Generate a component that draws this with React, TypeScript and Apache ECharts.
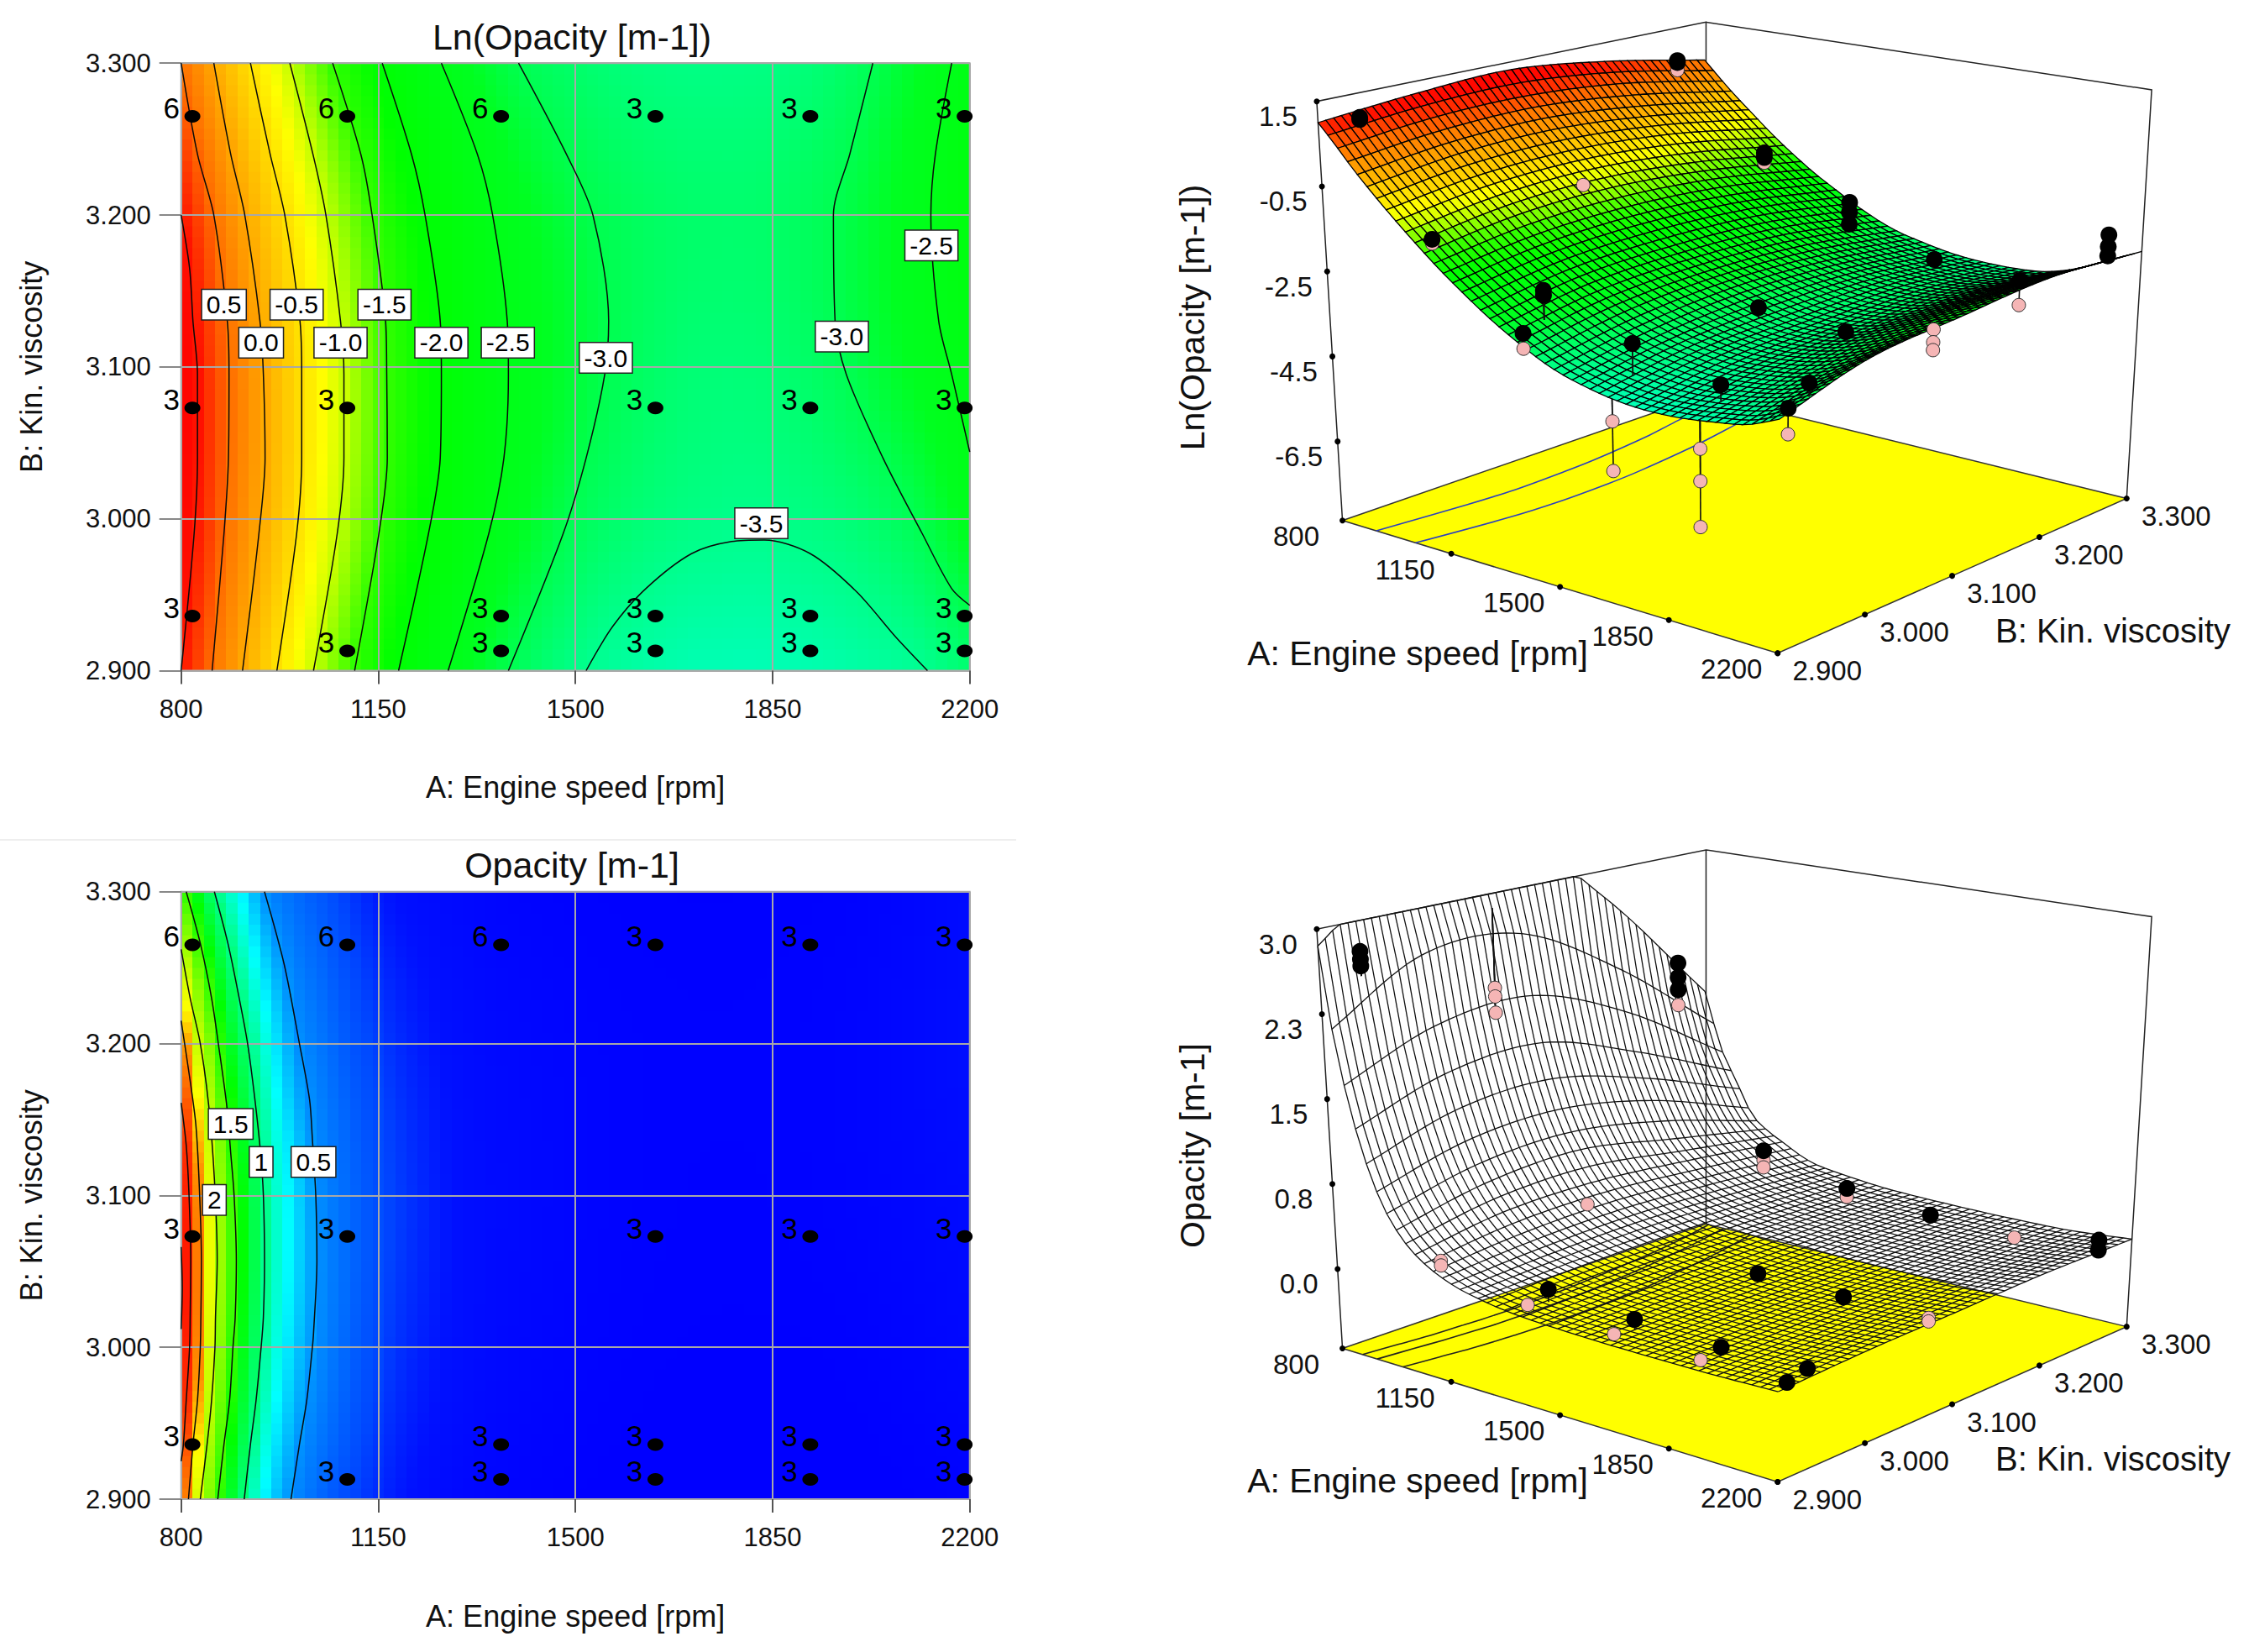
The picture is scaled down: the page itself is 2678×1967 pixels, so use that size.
import React, { useEffect, useRef } from "react";
import * as echarts from "echarts";

// ---------- values ----------
const B_ROWS = [2.9, 3.0, 3.1, 3.2, 3.3];

const LN_A = [800, 850, 900, 950, 1000, 1050, 1100, 1150, 1200, 1300, 1400, 1500, 1600, 1700, 1800, 1900, 2000, 2100, 2200];
const LN_B290 = [1.0, 0.55, 0.08, -0.34, -0.73, -1.1, -1.45, -1.78, -2.08, -2.63, -3.08, -3.44, -3.65, -3.78, -3.82, -3.78, -3.68, -3.55, -3.25];
const LN_B300 = [1.2, 0.77, 0.33, -0.07, -0.45, -0.8, -1.13, -1.47, -1.76, -2.26, -2.68, -3.04, -3.27, -3.4, -3.46, -3.4, -3.27, -3.02, -2.62];
const LN_B310 = [1.3, 0.8, 0.38, -0.03, -0.4, -0.74, -1.07, -1.4, -1.68, -2.18, -2.56, -2.85, -3.1, -3.27, -3.3, -3.2, -2.96, -2.68, -2.42];
const LN_B320 = [1.0, 0.57, 0.12, -0.26, -0.6, -0.95, -1.27, -1.56, -1.83, -2.28, -2.65, -2.92, -3.1, -3.2, -3.22, -3.12, -2.9, -2.6, -2.25];
const LN_B330 = [0.5, 0.07, -0.33, -0.69, -1.05, -1.38, -1.68, -1.96, -2.2, -2.65, -3.0, -3.2, -3.34, -3.4, -3.4, -3.33, -3.1, -2.75, -2.4];

const OP_A = [800, 825, 850, 875, 900, 950, 1000, 1050, 1100, 1150, 1200, 1300, 1400, 1600, 1800, 2000, 2200];
const OP_B290 = [2.85, 2.2, 1.75, 1.41, 1.12, 0.72, 0.48, 0.33, 0.235, 0.17, 0.125, 0.072, 0.045, 0.026, 0.022, 0.025, 0.04];
const OP_B300 = [3.5, 2.7, 2.1, 1.7, 1.39, 0.93, 0.65, 0.46, 0.32, 0.23, 0.17, 0.105, 0.068, 0.038, 0.031, 0.038, 0.073];
const OP_B310 = [3.5, 2.68, 2.15, 1.75, 1.43, 0.97, 0.69, 0.47, 0.34, 0.25, 0.19, 0.11, 0.077, 0.045, 0.037, 0.052, 0.088];
const OP_B320 = [2.7, 2.12, 1.75, 1.4, 1.16, 0.81, 0.53, 0.39, 0.28, 0.21, 0.16, 0.1, 0.07, 0.045, 0.04, 0.055, 0.105];
const OP_B330 = [1.6, 1.33, 1.08, 0.92, 0.78, 0.49, 0.36, 0.28, 0.2, 0.14, 0.11, 0.075, 0.05, 0.035, 0.033, 0.045, 0.09];

// contour lines: speed at which each level crosses the listed viscosities
const LN_CB = [3.3, 3.24, 3.2, 3.13, 3.095, 3.04, 2.99, 2.9];
const LN_C_05 = [800, 829, 858, 882, 885, 884, 876, 855];
const LN_C_00 = [858, 888, 913, 940, 946, 949, 938, 909];
const LN_C_M05 = [923, 958, 984, 1011, 1014, 1014, 1005, 970];
const LN_C_M10 = [993, 1034, 1057, 1083, 1089, 1089, 1077, 1035];
const LN_C_M15 = [1069, 1119, 1139, 1163, 1165, 1166, 1151, 1108];
const LN_C_M20 = [1157, 1209, 1233, 1260, 1262, 1260, 1239, 1186];
const LN_C_M25 = [1262, 1326, 1353, 1379, 1381, 1373, 1346, 1274];
const LN_C_M30L = [1399, 1484, 1531, 1559, 1552, 1519, 1478, 1381];
const LN_C_10_A = [800, 815, 821, 829, 829, 823, 800];
const LN_C_10_B = [3.2, 3.165, 3.13, 3.095, 3.04, 2.99, 2.9];
const LN_C_M30R_A = [2028, 1987, 1958, 1961, 1981, 2046, 2116, 2168, 2200];
const LN_C_M30R_B = [3.3, 3.24, 3.2, 3.13, 3.095, 3.04, 2.99, 2.954, 2.943];
const LN_C_M25R_A = [2168, 2139, 2131, 2145, 2168, 2200];
const LN_C_M25R_B = [3.3, 3.24, 3.2, 3.13, 3.095, 3.044];
const LN_C_M35_A = [1519, 1566, 1625, 1706, 1777, 1835, 1917, 1999, 2069, 2125];
const LN_C_M35_B = [2.9, 2.929, 2.954, 2.977, 2.985, 2.986, 2.977, 2.952, 2.922, 2.9];

const OP_C_05_A = [948, 983, 1010, 1028, 1033, 1039, 1041, 1035, 1033, 1023, 1010, 995];
const OP_C_10_A = [859, 883, 903, 918, 931, 941, 946, 948, 946, 942, 933, 923, 912];
const OP_C_15_A = [809, 834, 854, 866, 881, 888, 894, 898, 896, 892, 886, 876, 865];
const OP_C_05_B = [3.3, 3.252, 3.2, 3.163, 3.137, 3.1, 3.057, 3.009, 3.0, 2.965, 2.936, 2.9];
const OP_C_10_B = [3.3, 3.266, 3.23, 3.2, 3.163, 3.128, 3.1, 3.057, 3.02, 3.0, 2.965, 2.936, 2.9];
const OP_C_15_B = [3.3, 3.266, 3.23, 3.2, 3.159, 3.128, 3.1, 3.057, 3.02, 3.0, 2.965, 2.936, 2.9];
const OP_C_20_A = [800, 816, 834, 849, 859, 864, 861, 860, 854, 846, 834];
const OP_C_20_B = [3.262, 3.23, 3.2, 3.159, 3.111, 3.057, 3.02, 3.0, 2.965, 2.936, 2.9];
const OP_C_25_A = [800, 815, 826, 832, 836, 835, 834, 829, 821, 813];
const OP_C_25_B = [3.215, 3.178, 3.147, 3.108, 3.057, 3.02, 3.0, 2.965, 2.936, 2.9];
const OP_C_30_A = [800, 809, 814, 817, 816, 815, 809, 804, 800];
const OP_C_30_B = [3.161, 3.133, 3.1, 3.057, 3.02, 3.0, 2.965, 2.936, 2.925];
const OP_C_35_A = [800, 802, 800];
const OP_C_35_B = [3.066, 3.039, 3.012];

// design points with replicate counts
const DESIGN_POINTS = [
  [820, 3.265, "6"], [1095, 3.265, "6"], [1368, 3.265, "6"], [1642, 3.265, "3"], [1917, 3.265, "3"], [2191, 3.265, "3"],
  [820, 3.073, "3"], [1095, 3.073, "3"], [1642, 3.073, "3"], [1917, 3.073, "3"], [2191, 3.073, "3"],
  [820, 2.936, "3"], [1368, 2.936, "3"], [1642, 2.936, "3"], [1917, 2.936, "3"], [2191, 2.936, "3"],
  [1095, 2.913, "3"], [1368, 2.913, "3"], [1642, 2.913, "3"], [1917, 2.913, "3"], [2191, 2.913, "3"],
];

const LN_LABELS = [
  [876, 3.141, "0.5"], [942, 3.116, "0.0"], [1005, 3.141, "-0.5"], [1083, 3.116, "-1.0"], [1161, 3.141, "-1.5"],
  [1262, 3.116, "-2.0"], [1380, 3.116, "-2.5"], [1554, 3.106, "-3.0"], [1973, 3.12, "-3.0"], [2132, 3.18, "-2.5"], [1830, 2.997, "-3.5"],
];
const OP_LABELS = [[888, 3.147, "1.5"], [942, 3.122, "1"], [1035, 3.122, "0.5"], [859, 3.097, "2"]];

// measured points on the 3D plots: speed, viscosity, value, b = above surface, p = below, h = below and hidden
const LN_MEASURED = [
  [820, 2.936, 0.98, "b"], [820, 2.936, 0.93, "b"],
  [820, 3.073, 0.77, "h"], [820, 3.073, 0.65, "h"],
  [820, 3.265, 0.45, "p"], [820, 3.265, 0.7, "b"], [820, 3.265, 0.65, "b"],
  [1095, 3.265, -1.55, "p"], [1095, 3.265, -1.3, "b"], [1095, 3.265, -1.42, "b"],
  [1368, 3.265, -2.15, "b"], [1368, 3.265, -2.4, "b"], [1368, 3.265, -2.7, "b"],
  [1642, 3.265, -3.16, "b"],
  [1917, 3.265, -3.85, "p"], [1917, 3.265, -3.25, "b"],
  [2191, 3.265, -1.75, "b"], [2191, 3.265, -2.03, "b"], [2191, 3.265, -2.25, "b"],
  [1095, 3.073, -0.93, "p"],
  [1642, 3.073, -2.94, "b"], [1917, 3.073, -3.04, "b"],
  [2191, 3.073, -2.53, "p"], [2191, 3.073, -2.82, "p"], [2191, 3.073, -3.0, "p"],
  [1368, 2.936, -2.11, "b"], [1368, 2.936, -2.22, "b"],
  [1642, 2.936, -2.83, "b"], [1917, 2.936, -3.26, "b"], [2191, 2.936, -2.73, "b"],
  [1095, 2.913, -1.38, "p"], [1095, 2.913, -1.28, "b"],
  [1368, 2.913, -3.3, "p"], [1368, 2.913, -2.95, "b"],
  [1642, 2.913, -4.43, "p"], [1642, 2.913, -5.55, "p"],
  [1917, 2.913, -4.52, "p"], [1917, 2.913, -5.24, "p"], [1917, 2.913, -6.26, "p"],
  [2191, 2.913, -3.69, "p"], [2191, 2.913, -3.12, "b"],
];
const OP_MEASURED = [
  [820, 2.936, 2.75, "b"], [820, 2.936, 2.68, "b"], [820, 2.936, 2.62, "b"],
  [820, 3.073, 2.15, "p"], [820, 3.073, 2.07, "p"], [820, 3.073, 1.92, "p"],
  [820, 3.265, 1.97, "b"], [820, 3.265, 1.83, "b"], [820, 3.265, 1.71, "b"], [820, 3.265, 1.56, "p"],
  [1095, 3.265, 0.32, "b"], [1095, 3.265, 0.23, "p"], [1095, 3.265, 0.16, "p"],
  [1368, 3.265, 0.14, "b"], [1368, 3.265, 0.06, "p"],
  [1642, 3.265, 0.07, "b"], [1917, 3.265, 0.04, "p"],
  [2191, 3.265, 0.19, "b"], [2191, 3.265, 0.1, "b"],
  [1095, 3.073, 0.35, "p"], [1642, 3.073, 0.12, "b"], [1917, 3.073, 0.11, "b"],
  [2191, 3.073, 0.12, "p"], [2191, 3.073, 0.09, "p"],
  [1368, 2.936, 0.17, "b"], [1642, 2.936, 0.12, "b"], [1917, 2.936, 0.09, "b"], [2191, 2.936, 0.115, "b"],
  [1095, 2.913, 0.27, "p"], [1095, 2.913, 0.23, "p"],
  [1368, 2.913, 0.1, "p"], [1642, 2.913, 0.06, "p"], [1917, 2.913, 0.05, "p"], [2191, 2.913, 0.07, "b"],
];

const A_TICKS = [800, 1150, 1500, 1850, 2200];
const B_TICKS = [2.9, 3.0, 3.1, 3.2, 3.3];
const LN_Z_TICKS = [1.5, -0.5, -2.5, -4.5, -6.5];
const LN_Z_TEXT = ["1.5", "-0.5", "-2.5", "-4.5", "-6.5"];
const OP_Z_TICKS = [3.0, 2.25, 1.5, 0.75, 0.0];
const OP_Z_TEXT = ["3.0", "2.3", "1.5", "0.8", "0.0"];

const LN_COLORS: any[] = [
  [-3.9, "#00ffc0"], [-3.5, "#00ff90"], [-3.0, "#00ff50"], [-2.7, "#00ff20"], [-1.9, "#00ff00"], [-1.5, "#30ff00"],
  [-1.0, "#c8ff00"], [-0.75, "#ffff00"], [-0.5, "#ffe000"], [0.0, "#ffa800"], [0.5, "#ff7000"], [1.0, "#ff1000"], [1.3, "#ff0000"],
];
const OP_COLORS: any[] = [
  [0.03, "#0000ff"], [0.12, "#0010ff"], [0.23, "#0048ff"], [0.34, "#0068ff"], [0.5, "#0090ff"], [0.75, "#00ffff"], [1.0, "#00ff80"], [1.35, "#00ff00"], [1.75, "#80ff00"],
  [2.0, "#c0ff00"], [2.25, "#ffff00"], [2.5, "#ff9000"], [3.0, "#ff3000"], [3.5, "#ff0000"],
];

// ---------- helpers ----------
const FONT = "Liberation Sans";
const A_MIN = 800, A_MAX = 2200, B_MIN = 2.9, B_MAX = 3.3;

function zip(xs: number[], ys: number[]) { return xs.map((x, i) => [x, ys[i]]); }

function hermite(xs: number[], ys: number[], x: number) {
  const n = xs.length;
  if (x <= xs[0]) return ys[0];
  if (x >= xs[n - 1]) return ys[n - 1];
  let i = 0;
  while (x > xs[i + 1]) i++;
  const slope = (k: number) => {
    if (k === 0) return (ys[1] - ys[0]) / (xs[1] - xs[0]);
    if (k === n - 1) return (ys[n - 1] - ys[n - 2]) / (xs[n - 1] - xs[n - 2]);
    return (ys[k + 1] - ys[k - 1]) / (xs[k + 1] - xs[k - 1]);
  };
  const h = xs[i + 1] - xs[i], t = (x - xs[i]) / h;
  const t2 = t * t, t3 = t2 * t;
  return (2 * t3 - 3 * t2 + 1) * ys[i] + (t3 - 2 * t2 + t) * h * slope(i) + (-2 * t3 + 3 * t2) * ys[i + 1] + (t3 - t2) * h * slope(i + 1);
}

function sampler(As: number[], rows: number[][]) {
  return (A: number, B: number) => hermite(B_ROWS, rows.map((r) => hermite(As, r, A)), B);
}
const lnAt = sampler(LN_A, [LN_B290, LN_B300, LN_B310, LN_B320, LN_B330]);
const opAt = sampler(OP_A, [OP_B290, OP_B300, OP_B310, OP_B320, OP_B330]);

function hexRgb(h: string) { return [1, 3, 5].map((i) => parseInt(h.slice(i, i + 2), 16)); }
function colorOf(map: any[], v: number) {
  if (v <= map[0][0]) return map[0][1];
  for (let i = 1; i < map.length; i++) {
    if (v <= map[i][0]) {
      const t = (v - map[i - 1][0]) / (map[i][0] - map[i - 1][0]);
      const p = hexRgb(map[i - 1][1]), q = hexRgb(map[i][1]);
      return `rgb(${p.map((c, k) => Math.round(c + (q[k] - c) * t)).join(",")})`;
    }
  }
  return map[map.length - 1][1];
}

// floor edges are evenly divided in the picture, so the floor is bilinear; verticals lean towards a far point below
function makeProjector(c: any) {
  const [p0, p1, p2, p3] = c.floor;
  const [tl, tb, tr] = c.top;
  const l1 = (tl[0] - p0[0]) / (tl[1] - p0[1]), l2 = (tr[0] - p2[0]) / (tr[1] - p2[1]);
  const vy = (p2[0] - p0[0] + l1 * p0[1] - l2 * p2[1]) / (l1 - l2);
  const vx = p0[0] + l1 * (vy - p0[1]);
  const sOf = (f: number[], t: number[]) => (t[1] - f[1]) / (vy - f[1]);
  const s0 = sOf(p0, tl), s3 = sOf(p3, tb), s2 = sOf(p2, tr), s1 = s0 + s2 - s3;
  return (A: number, B: number, z: number) => {
    const a = (A - A_MIN) / (A_MAX - A_MIN), b = (B - B_MIN) / (B_MAX - B_MIN);
    const t = (z - c.zMin) / (c.zMax - c.zMin);
    const w0 = (1 - a) * (1 - b), w1 = a * (1 - b), w2 = a * b, w3 = (1 - a) * b;
    const X = w0 * p0[0] + w1 * p1[0] + w2 * p2[0] + w3 * p3[0];
    const Y = w0 * p0[1] + w1 * p1[1] + w2 * p2[1] + w3 * p3[1];
    const s = (w0 * s0 + w1 * s1 + w2 * s2 + w3 * s3) * t;
    return [X + s * (vx - X), Y + s * (vy - Y)];
  };
}

const txt = (text: string, x: number, y: number, fontSize: number, rotation = 0) => ({
  type: "text", x, y, rotation, silent: true,
  style: { text, fontSize, fontFamily: FONT, fill: "#111", align: "center", verticalAlign: "middle" },
});

const MESH = 50;

function surface3d(c: any) {
  const P = makeProjector(c);
  const at = (A: number, B: number) => Math.min(c.at(A, B), c.zMax);
  const Aof = (i: number) => A_MIN + ((A_MAX - A_MIN) * i) / MESH;
  const Bof = (j: number) => B_MIN + ((B_MAX - B_MIN) * j) / MESH;
  const grid: number[][] = [];
  for (let i = 0; i <= MESH; i++) { grid.push([]); for (let j = 0; j <= MESH; j++) grid[i].push(at(Aof(i), Bof(j))); }
  const pts = (i: number, j: number) => P(Aof(i), Bof(j), grid[i][j]);

  const base = { type: "custom", coordinateSystem: "none", silent: true, animation: false, progressive: 0, clip: false };

  const frame = () => {
    const cs: any[] = [];
    const f = c.floor, t = c.top;
    cs.push({ type: "polyline", shape: { points: [f[0], t[0], t[1], t[2], f[2]] }, style: { fill: "none", stroke: "#222", lineWidth: 1.5 } });
    cs.push({ type: "line", shape: { x1: t[1][0], y1: t[1][1], x2: f[3][0], y2: f[3][1] }, style: { stroke: "#222", lineWidth: 1.5 } });
    cs.push({ type: "polygon", shape: { points: f }, style: { fill: "#ffff00", stroke: "#333", lineWidth: 1.5 } });
    const dot = (p: number[]) => cs.push({ type: "circle", shape: { cx: p[0], cy: p[1], r: 3.5 }, style: { fill: "#000" } });
    A_TICKS.forEach((A) => {
      const p = P(A, B_MIN, c.zMin); dot(p);
      cs.push(txt(String(A), p[0] - 55, p[1] + 19, 33));
    });
    B_TICKS.forEach((B) => {
      const p = P(A_MAX, B, c.zMin); dot(p);
      cs.push(txt(B.toFixed(3), p[0] + 59, p[1] + 21, 33));
    });
    c.zTicks.forEach((z: number, i: number) => {
      const p = P(A_MIN, B_MIN, z); dot(p);
      cs.push(txt(c.zText[i], p[0] - 46, p[1] + 18, 33));
    });
    cs.push(txt("A: Engine speed [rpm]", c.aName[0], c.aName[1], 41));
    cs.push(txt("B: Kin. viscosity", c.bName[0], c.bName[1], 40));
    cs.push(txt(c.title, c.zName[0], c.zName[1], 41, Math.PI / 2));
    return { type: "group", children: cs };
  };

  const floorLines = c.floorContours.map((l: number[][]) => l.map((d) => P(d[0], d[1], c.zMin)));
  const series: any[] = [
    { ...base, z: 3, data: [0], renderItem: frame },
    {
      ...base, z: 4, data: floorLines.map((_: any, i: number) => i),
      renderItem: (p: any) => ({ type: "polyline", shape: { points: floorLines[p.dataIndex], smooth: 0.3 }, style: { fill: "none", stroke: c.floorColor, lineWidth: 1.6 } }),
    },
  ];

  const stem = (m: any) => {
    const a = P(m[0], m[1], m[2]), b = P(m[0], m[1], at(m[0], m[1]));
    return { x1: a[0], y1: a[1], x2: b[0], y2: b[1] };
  };
  const under = c.points.filter((m: any) => m[3] !== "b");
  series.push({
    ...base, z: 5, data: under.map((_: any, i: number) => i),
    renderItem: (p: any) => ({ type: "line", shape: stem(under[p.dataIndex]), style: { stroke: "#111", lineWidth: 1.6 } }),
  });
  const hidden = c.points.filter((m: any) => m[3] === "h");
  series.push({
    ...base, z: 5, data: hidden.map((_: any, i: number) => i),
    renderItem: (p: any) => { const q = P(hidden[p.dataIndex][0], hidden[p.dataIndex][1], hidden[p.dataIndex][2]); return { type: "circle", shape: { cx: q[0], cy: q[1], r: 8 }, style: { fill: "#f5b5b5", stroke: "#333", lineWidth: 1 } }; },
  });

  if (c.fill) {
    const cells: number[][] = [];
    for (let i = 0; i < MESH; i++) for (let j = MESH - 1; j >= 0; j--) cells.push([i, j]);
    series.push({
      ...base, z: 6, data: cells.map((_, i) => i),
      renderItem: (p: any) => {
        const [i, j] = cells[p.dataIndex];
        const v = (grid[i][j] + grid[i + 1][j] + grid[i][j + 1] + grid[i + 1][j + 1]) / 4;
        return { type: "polygon", shape: { points: [pts(i, j), pts(i + 1, j), pts(i + 1, j + 1), pts(i, j + 1)] }, style: { fill: colorOf(c.colors, v), stroke: "#000", lineWidth: 1.3 } };
      },
    });
  } else {
    const lines: number[][][] = [];
    for (let i = 0; i <= MESH; i++) { const l = []; for (let j = 0; j <= MESH; j++) l.push(pts(i, j)); lines.push(l); }
    for (let j = 0; j <= MESH; j++) { const l = []; for (let i = 0; i <= MESH; i++) l.push(pts(i, j)); lines.push(l); }
    series.push({
      ...base, z: 6, data: lines.map((_, i) => i),
      renderItem: (p: any) => ({ type: "polyline", shape: { points: lines[p.dataIndex] }, style: { fill: "none", stroke: "#111", lineWidth: 1.3 } }),
    });
  }

  const over = c.points.filter((m: any) => m[3] === "b");
  series.push({
    ...base, z: 7, data: over.map((_: any, i: number) => i),
    renderItem: (p: any) => ({ type: "line", shape: stem(over[p.dataIndex]), style: { stroke: "#111", lineWidth: 1.8 } }),
  });
  const pink = c.points.filter((m: any) => m[3] === "p");
  series.push({
    ...base, z: 8, data: pink.map((_: any, i: number) => i),
    renderItem: (p: any) => { const m = pink[p.dataIndex], q = P(m[0], m[1], m[2]); return { type: "circle", shape: { cx: q[0], cy: q[1], r: 8 }, style: { fill: "#f5b5b5", stroke: "#333", lineWidth: 1 } }; },
  });
  series.push({
    ...base, z: 9, data: over.map((_: any, i: number) => i),
    renderItem: (p: any) => { const m = over[p.dataIndex], q = P(m[0], m[1], m[2]); return { type: "circle", shape: { cx: q[0], cy: q[1], r: 10 }, style: { fill: "#000" } }; },
  });
  return series;
}

const COLS = 70, ROWS = 56;
function field2d(idx: number, at: (A: number, B: number) => number, colors: any[]) {
  const rows: any[] = [];
  for (let r = 0; r < ROWS; r++) {
    const B0 = B_MIN + ((B_MAX - B_MIN) * r) / ROWS, B1 = B_MIN + ((B_MAX - B_MIN) * (r + 1)) / ROWS;
    const stops: any[] = [];
    for (let k = 0; k < COLS; k++) {
      const A = A_MIN + ((A_MAX - A_MIN) * (k + 0.5)) / COLS;
      const col = colorOf(colors, at(A, (B0 + B1) / 2));
      stops.push({ offset: k / COLS, color: col }, { offset: (k + 1) / COLS, color: col });
    }
    rows.push({ B0, B1, fill: new echarts.graphic.LinearGradient(0, 0, 1, 0, stops) });
  }
  return {
    type: "custom", xAxisIndex: idx, yAxisIndex: idx, z: -1, silent: true, animation: false, progressive: 0, clip: true,
    data: rows.map((r) => [A_MIN, r.B0]),
    renderItem: (p: any, api: any) => {
      const r = rows[p.dataIndex];
      const a = api.coord([A_MIN, r.B1]), b = api.coord([A_MAX, r.B0]);
      return { type: "rect", shape: { x: a[0], y: a[1] - 0.5, width: b[0] - a[0], height: b[1] - a[1] + 1 }, style: { fill: r.fill } };
    },
  };
}

function contourSeries(idx: number, lines: number[][][]) {
  return lines.map((data) => ({
    type: "line", xAxisIndex: idx, yAxisIndex: idx, data, smooth: 0.3, showSymbol: false, silent: true, z: 3,
    lineStyle: { color: "#0a0a0a", width: 1.5 }, clip: true,
  }));
}

function pointsAndLabels(idx: number, labels: any[]) {
  return [
    {
      type: "scatter", xAxisIndex: idx, yAxisIndex: idx, data: DESIGN_POINTS, symbolSize: [19, 15], silent: true, z: 4, clip: false,
      itemStyle: { color: "#000", opacity: 1 },
      label: { show: true, position: "inside", offset: [-25, -10], fontSize: 35, fontFamily: FONT, color: "#000", formatter: (p: any) => p.value[2] },
    },
    {
      type: "scatter", xAxisIndex: idx, yAxisIndex: idx, data: labels, symbolSize: 1, silent: true, z: 5,
      itemStyle: { color: "rgba(0,0,0,0)", opacity: 1 },
      label: {
        show: true, position: "inside", fontSize: 30, fontFamily: FONT, color: "#000", backgroundColor: "#fff", borderColor: "#222", borderWidth: 1.5,
        padding: [3, 5, 2, 5], formatter: (p: any) => p.value[2],
      },
    },
  ];
}

function axes(idx: number) {
  const common = { axisLine: { show: true, onZero: false, lineStyle: { color: "#aaa", width: 2 } }, splitLine: { show: true, lineStyle: { color: "#a8a8a8", width: 2 } } };
  const label = { fontSize: 31, fontFamily: FONT, color: "#111" };
  const nameStyle = { fontSize: 36, fontFamily: FONT, color: "#111" };
  return {
    x: {
      type: "value", gridIndex: idx, min: A_MIN, max: A_MAX, interval: 350, ...common,
      axisTick: { show: true, length: 16, lineStyle: { color: "#555", width: 2 } },
      axisLabel: { ...label, margin: 30, showMinLabel: true, showMaxLabel: true, formatter: (v: number) => String(v) },
      name: "A: Engine speed [rpm]", nameLocation: "middle", nameGap: 121, nameTextStyle: nameStyle,
    },
    y: {
      type: "value", gridIndex: idx, min: 2.9, max: 3.3, interval: 0.1, ...common,
      axisTick: { show: true, length: 26, lineStyle: { color: "#888", width: 2 } },
      axisLabel: { ...label, margin: 36, formatter: (v: number) => v.toFixed(3), showMinLabel: true, showMaxLabel: true },
      name: "B: Kin. viscosity", nameLocation: "middle", nameGap: 160, nameTextStyle: nameStyle,
    },
  };
}

const LN_LINES = [
  zip(LN_C_10_A, LN_C_10_B), zip(LN_C_05, LN_CB), zip(LN_C_00, LN_CB), zip(LN_C_M05, LN_CB), zip(LN_C_M10, LN_CB),
  zip(LN_C_M15, LN_CB), zip(LN_C_M20, LN_CB), zip(LN_C_M25, LN_CB), zip(LN_C_M30L, LN_CB),
  zip(LN_C_M30R_A, LN_C_M30R_B), zip(LN_C_M25R_A, LN_C_M25R_B), zip(LN_C_M35_A, LN_C_M35_B),
];
const OP_LINES = [
  zip(OP_C_05_A, OP_C_05_B), zip(OP_C_10_A, OP_C_10_B), zip(OP_C_15_A, OP_C_15_B), zip(OP_C_20_A, OP_C_20_B),
  zip(OP_C_25_A, OP_C_25_B), zip(OP_C_30_A, OP_C_30_B), zip(OP_C_35_A, OP_C_35_B),
];

function buildOption() {
  const a0 = axes(0), a1 = axes(1);
  const Z2 = (xz: number, yz: number, oy: number) => [1380 + xz * 0.8278, oy + yz * 0.5485];
  const s3d1 = surface3d({
    floor: [Z2(264, 1130, 0), Z2(890, 1418, 0), Z2(1392, 1082, 0), Z2(787, 857, 0)],
    top: [Z2(227, 220, 0), Z2(787, 48, 0), Z2(1428, 195, 0)],
    zMin: -8.36, zMax: 1.5, at: lnAt, fill: true, colors: LN_COLORS, points: LN_MEASURED,
    zTicks: LN_Z_TICKS, zText: LN_Z_TEXT, title: "Ln(Opacity [m-1])",
    aName: [1688, 778], bName: [2516, 751], zName: [1420, 378],
    floorContours: [zip(LN_C_00, LN_CB), zip(LN_C_M10, LN_CB)], floorColor: "#2a3fc0",
  });
  const s3d2 = surface3d({
    floor: [Z2(264, 1122, 990), Z2(890, 1412, 990), Z2(1392, 1075, 990), Z2(787, 852, 990)],
    top: [Z2(227, 212, 990), Z2(787, 40, 990), Z2(1428, 185, 990)],
    zMin: -0.7, zMax: 3.0, at: opAt, fill: false, points: OP_MEASURED,
    zTicks: OP_Z_TICKS, zText: OP_Z_TEXT, title: "Opacity [m-1]",
    aName: [1688, 1763], bName: [2516, 1737], zName: [1420, 1364],
    floorContours: [zip(OP_C_05_A, OP_C_05_B), zip(OP_C_10_A, OP_C_10_B), zip(OP_C_15_A, OP_C_15_B)], floorColor: "#222",
  });
  return {
    animation: false,
    backgroundColor: "#fff",
    textStyle: { fontFamily: FONT },
    grid: [
      { left: 215.7, top: 75.2, width: 939, height: 723.3, show: true, backgroundColor: "transparent", borderColor: "#aaa", borderWidth: 2 },
      { left: 215.7, top: 1061.7, width: 939, height: 723.3, show: true, backgroundColor: "transparent", borderColor: "#aaa", borderWidth: 2 },
    ],
    xAxis: [a0.x, a1.x],
    yAxis: [a0.y, a1.y],
    graphic: [
      { type: "line", shape: { x1: 0, y1: 1000, x2: 1210, y2: 1000 }, style: { stroke: "#eeeeee", lineWidth: 2 }, silent: true },
      { type: "text", x: 681, y: 44, silent: true, style: { text: "Ln(Opacity [m-1])", fontSize: 43, fontFamily: FONT, fill: "#111", align: "center", verticalAlign: "middle" } },
      { type: "text", x: 681, y: 1030, silent: true, style: { text: "Opacity [m-1]", fontSize: 43, fontFamily: FONT, fill: "#111", align: "center", verticalAlign: "middle" } },
    ],
    series: [
      field2d(0, lnAt, LN_COLORS),
      field2d(1, opAt, OP_COLORS),
      ...contourSeries(0, LN_LINES),
      ...contourSeries(1, OP_LINES),
      ...pointsAndLabels(0, LN_LABELS),
      ...pointsAndLabels(1, OP_LABELS),
      ...s3d1,
      ...s3d2,
    ],
  };
}

export default function App() {
  const ref = useRef<HTMLDivElement>(null);
  useEffect(() => {
    document.body.style.margin = "0";
    const chart = echarts.init(ref.current!, undefined, { renderer: "svg" });
    chart.setOption(buildOption() as any);
    return () => chart.dispose();
  }, []);
  return <div ref={ref} style={{ width: 2678, height: 1967 }} />;
}
